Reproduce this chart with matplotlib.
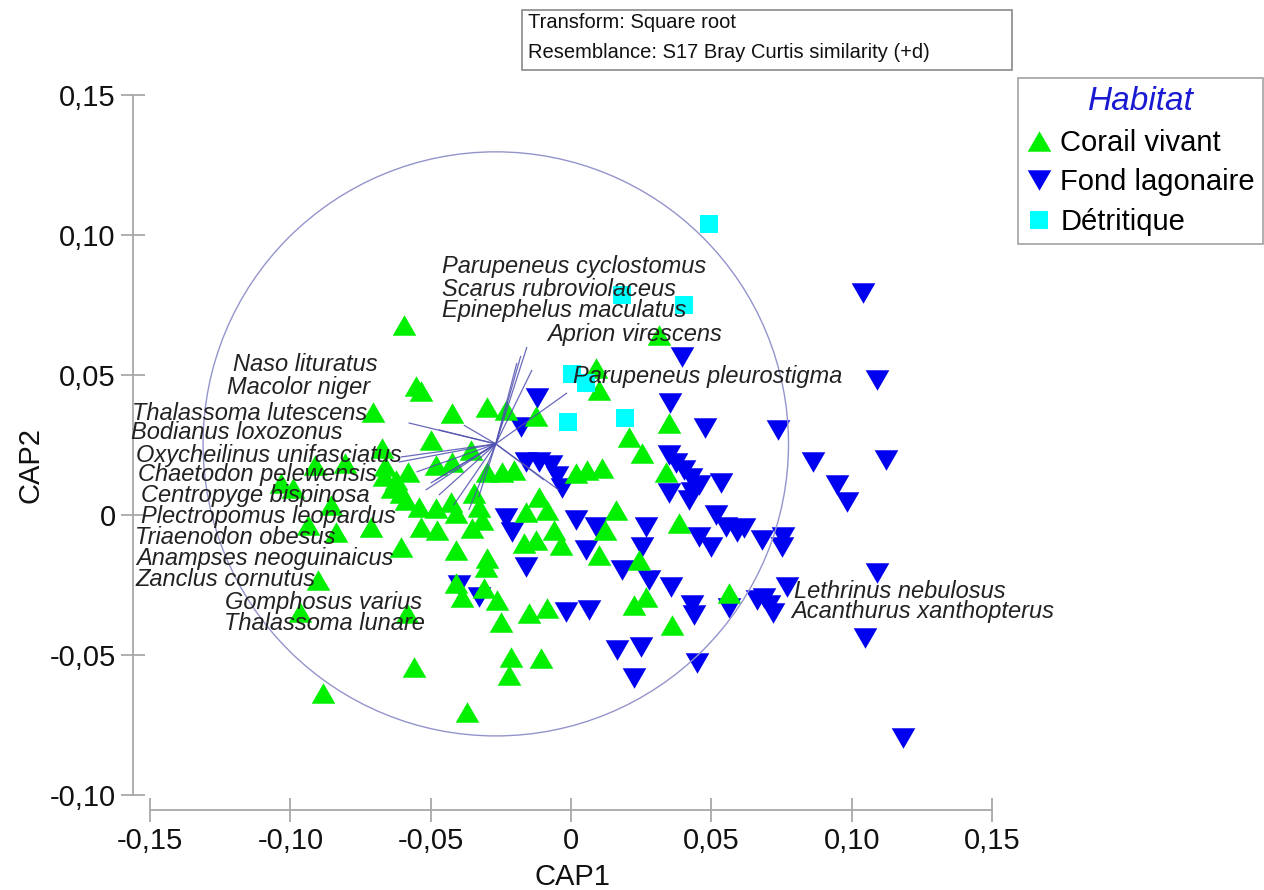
import matplotlib
matplotlib.use("Agg")
import matplotlib.pyplot as plt
from matplotlib.patches import Circle, Rectangle
from matplotlib.lines import Line2D

plt.rcParams['font.family'] = ['Liberation Sans', 'DejaVu Sans']

# ---- CAP scores by habitat ----
corail_cap1 = [-0.0596, -0.0554, -0.0536, -0.0704, -0.0425, -0.0300, -0.0232, -0.0500, -0.0675, -0.0357,
               -0.0425, -0.0482, -0.0911, -0.0804, -0.0661, -0.0579, -0.0668, -0.0625, -0.0300, -0.0246,
               -0.1032, -0.0989, -0.0639, -0.0604, -0.0589, -0.0482, -0.0429, -0.0346, -0.0411, -0.0329,
               -0.0318, -0.0354, -0.0536, -0.0479, -0.0161, -0.0854, -0.0936, -0.0839, -0.0714, -0.0604,
               -0.0411, -0.0300, -0.0168, -0.0900, -0.0964, -0.0586, -0.0561, -0.0882, -0.0371, -0.0411,
               -0.0389, -0.0304, -0.0311, -0.0264, -0.0250, -0.0150, -0.0086, -0.0214, -0.0221, -0.0107,
               0.0314, 0.0089, 0.0100, 0.0207, 0.0254, 0.0350, 0.0339, 0.0386, 0.0161, 0.0243,
               0.0268, 0.0225, 0.0361, 0.0564, 0.0018, 0.0057, 0.0111, -0.0114, -0.0061, -0.0543,
               -0.0125, -0.0086, -0.0125, -0.0036, 0.0121, -0.0204, 0.0100]
corail_cap2 = [0.0679, 0.0461, 0.0443, 0.0368, 0.0364, 0.0386, 0.0375, 0.0268, 0.0239, 0.0232,
               0.0189, 0.0179, 0.0179, 0.0186, 0.0175, 0.0154, 0.0139, 0.0125, 0.0154, 0.0154,
               0.0114, 0.0096, 0.0096, 0.0079, 0.0054, 0.0025, 0.0046, 0.0079, 0.0007, 0.0029,
               -0.0018, -0.0046, -0.0043, -0.0054, 0.0011, 0.0036, -0.0036, -0.0061, -0.0043, -0.0114,
               -0.0125, -0.0154, -0.0100, -0.0232, -0.0346, -0.0350, -0.0543, -0.0636, -0.0704, -0.0243,
               -0.0293, -0.0186, -0.0261, -0.0304, -0.0382, -0.0350, -0.0332, -0.0507, -0.0571, -0.0511,
               0.0643, 0.0525, 0.0446, 0.0279, 0.0221, 0.0329, 0.0154, -0.0029, 0.0018, -0.0161,
               -0.0293, -0.0321, -0.0393, -0.0279, 0.0150, 0.0161, 0.0168, 0.0064, -0.0054, 0.0029,
               0.0354, 0.0018, -0.0089, -0.0107, -0.0054, 0.0161, -0.0143]

fond_cap1 = [0.1039, 0.1089, 0.0396, -0.0121, 0.0354, 0.0479, 0.0736, 0.0861, 0.1121, 0.0946,
             0.0982, 0.1089, 0.1046, 0.1182, 0.0768, 0.0689, 0.0718, -0.0179, -0.0161, -0.0114,
             -0.0071, -0.0050, -0.0032, 0.0350, 0.0375, 0.0404, 0.0429, 0.0457, 0.0432, 0.0421,
             0.0350, 0.0536, 0.0518, 0.0554, 0.0593, 0.0457, 0.0500, 0.0682, 0.0754, 0.0750,
             0.0018, 0.0089, 0.0054, 0.0268, 0.0254, -0.0232, -0.0211, -0.0161, 0.0182, 0.0279,
             0.0357, 0.0432, 0.0439, 0.0564, 0.0661, 0.0707, -0.0018, 0.0064, 0.0164, 0.0250,
             0.0450, 0.0225, -0.0400, -0.0329, 0.0618]
fond_cap2 = [0.0793, 0.0482, 0.0564, 0.0418, 0.0400, 0.0311, 0.0304, 0.0189, 0.0196, 0.0107,
             0.0046, -0.0207, -0.0439, -0.0796, -0.0257, -0.0296, -0.0350, 0.0314, 0.0189, 0.0189,
             0.0179, 0.0139, 0.0096, 0.0214, 0.0186, 0.0161, 0.0132, 0.0107, 0.0082, 0.0054,
             0.0079, 0.0114, 0.0000, -0.0043, -0.0061, -0.0079, -0.0114, -0.0089, -0.0079, -0.0114,
             -0.0018, -0.0043, -0.0125, -0.0043, -0.0114, -0.0011, -0.0061, -0.0186, -0.0196, -0.0232,
             -0.0257, -0.0321, -0.0357, -0.0332, -0.0304, -0.0321, -0.0346, -0.0339, -0.0482, -0.0471,
             -0.0529, -0.0582, -0.0250, -0.0293, -0.0046]

detri_cap1 = [0.0493, 0.0182, 0.0404, 0.0004, 0.0054, -0.0011, 0.0193]
detri_cap2 = [0.1039, 0.0786, 0.0750, 0.0504, 0.0471, 0.0332, 0.0346]

habitats = ['Corail vivant', 'Fond lagonaire', 'Détritique']

# ---- species vectors (endpoints, from the common origin) ----
species = ['Parupeneus cyclostomus', 'Scarus rubroviolaceus', 'Epinephelus maculatus',
           'Aprion virescens', 'Parupeneus pleurostigma', 'Naso lituratus', 'Macolor niger',
           'Thalassoma lutescens', 'Bodianus loxozonus', 'Oxycheilinus unifasciatus',
           'Chaetodon pelewensis', 'Centropyge bispinosa', 'Plectropomus leopardus',
           'Triaenodon obesus', 'Anampses neoguinaicus', 'Zanclus cornutus',
           'Gomphosus varius', 'Thalassoma lunare', 'Lethrinus nebulosus',
           'Acanthurus xanthopterus']
vec_cap1 = [-0.0157, -0.0193, -0.0179, -0.0139, -0.0014, -0.0382, -0.0471,
            -0.0579, -0.0607, -0.0614, -0.0550, -0.0518, -0.0500, -0.0471,
            -0.0482, -0.0418, -0.0364, -0.0329, -0.0043, -0.0096]
vec_cap2 = [0.0600, 0.0543, 0.0568, 0.0518, 0.0436, 0.0321, 0.0304,
            0.0329, 0.0207, 0.0189, 0.0154, 0.0089, 0.0114, 0.0071,
            0.0125, 0.0036, 0.0018, 0.0064, 0.0089, 0.0125]
vec_origin = (-0.0268, 0.0254)
circle_radius = 0.1043

# label anchors (left edge, vertical centre) in CAP units
label_x = [-0.0461, -0.0461, -0.0461, -0.0086, 0.0007, -0.1204, -0.1225,
           -0.1564, -0.1568, -0.1550, -0.1543, -0.1532, -0.1532, -0.1554,
           -0.1550, -0.1550, -0.1232, -0.1236, 0.0796, 0.0786]
label_y = [0.0889, 0.0807, 0.0729, 0.0646, 0.0493, 0.0539, 0.0454,
           0.0364, 0.0293, 0.0214, 0.0143, 0.0068, -0.0007, -0.0079,
           -0.0154, -0.0229, -0.0311, -0.0386, -0.0275, -0.0346]

xticks = [-0.15, -0.10, -0.05, 0.0, 0.05, 0.10, 0.15]
xtick_labels = ['-0,15', '-0,10', '-0,05', '0', '0,05', '0,10', '0,15']
yticks = [-0.10, -0.05, 0.0, 0.05, 0.10, 0.15]
ytick_labels = ['-0,10', '-0,05', '0', '0,05', '0,10', '0,15']

# ---- styling ----
W, H = 1264, 890
green, blue, cyan = '#00f000', '#0000f0', '#00ffff'
axis_grey = '#a8a8a8'
tri_up = [(-1, -0.866), (1, -0.866), (0, 0.866)]
tri_down = [(-1, 0.866), (1, 0.866), (0, -0.866)]

fig = plt.figure(figsize=(W / 100, H / 100), dpi=100)
ax = fig.add_axes([150 / W, (H - 795) / H, 842 / W, 700 / H])
ax.set_xlim(-0.15, 0.15)
ax.set_ylim(-0.10, 0.15)

ax.scatter(fond_cap1, fond_cap2, marker=tri_down, s=290, c=blue, linewidths=0, zorder=2)
ax.scatter(corail_cap1, corail_cap2, marker=tri_up, s=290, c=green, linewidths=0, zorder=2)
ax.scatter(detri_cap1, detri_cap2, marker='s', s=160, c=cyan, linewidths=0, zorder=2)

ox, oy = vec_origin
for ex, ey in zip(vec_cap1, vec_cap2):
    ax.plot([ox, ex], [oy, ey], color='#5050b0', lw=0.9, alpha=0.85, zorder=3,
            solid_capstyle='butt')
ax.add_patch(Circle((ox, oy), circle_radius, fill=False, edgecolor='#9494cc', lw=1.0, zorder=3))

for name, lx, ly in zip(species, label_x, label_y):
    ax.text(lx, ly, name, fontsize=17, style='italic', color='#222222',
            ha='left', va='center', zorder=4)

# detached PRIMER-style axes
for side in ('top', 'right'):
    ax.spines[side].set_visible(False)
ax.spines['left'].set_position(('outward', 17 * 0.72))
ax.spines['bottom'].set_position(('outward', 15 * 0.72))
ax.spines['left'].set_bounds(-0.10, 0.15)
ax.spines['bottom'].set_bounds(-0.15, 0.15)
for side in ('left', 'bottom'):
    ax.spines[side].set_color(axis_grey)
    ax.spines[side].set_linewidth(1.3)
ax.set_xticks(xticks)
ax.set_xticklabels(xtick_labels)
ax.set_yticks(yticks)
ax.set_yticklabels(ytick_labels)
ax.tick_params(direction='inout', length=17, width=1.3, color=axis_grey,
               labelsize=21, labelcolor='#111111', pad=4)

fig.text(572 / W, 1 - 877 / H, 'CAP1', fontsize=21, ha='center', va='center', color='#111111')
fig.text(30 / W, 1 - 465 / H, 'CAP2', fontsize=21, ha='center', va='center',
         rotation=90, color='#111111')

# transform / resemblance note
fig.add_artist(Rectangle((522 / W, 1 - 70 / H), 490 / W, 60 / H, transform=fig.transFigure,
                         fill=False, edgecolor='#8a8a8a', lw=1.2))
fig.text(528 / W, 1 - 22 / H, 'Transform: Square root', fontsize=14.5, va='center', color='#111111')
fig.text(528 / W, 1 - 53 / H, 'Resemblance: S17 Bray Curtis similarity (+d)', fontsize=14.5,
         va='center', color='#111111')

# legend
handles = [Line2D([], [], linestyle='None', marker=tri_up, markersize=17,
                  markerfacecolor=green, markeredgewidth=0),
           Line2D([], [], linestyle='None', marker=tri_down, markersize=17,
                  markerfacecolor=blue, markeredgewidth=0),
           Line2D([], [], linestyle='None', marker='s', markersize=13,
                  markerfacecolor=cyan, markeredgewidth=0)]
leg = fig.legend(handles, habitats, loc='upper left', bbox_to_anchor=(1018 / W, 1 - 78 / H),
                 bbox_transform=fig.transFigure, title='Habitat', fontsize=21,
                 title_fontproperties={'style': 'italic', 'size': 24},
                 frameon=True, fancybox=False, edgecolor='#8a8a8a', borderpad=0.28,
                 labelspacing=0.4, handletextpad=0.27, handlelength=0.9, borderaxespad=0)
leg.get_title().set_color('#1a1ad2')
leg.get_frame().set_linewidth(1.2)

fig.savefig('out.png', dpi=100)
